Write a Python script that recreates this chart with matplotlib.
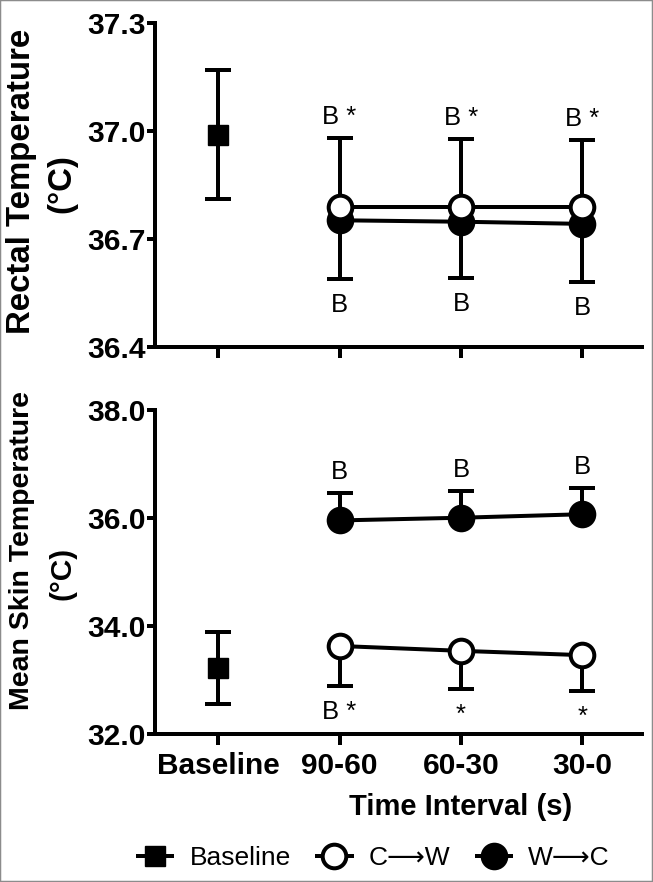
import matplotlib
matplotlib.use("Agg")
import matplotlib.pyplot as plt
from matplotlib.lines import Line2D
from matplotlib.patches import Rectangle
import numpy as np

plt.rcParams['font.family'] = ['Liberation Sans', 'DejaVu Sans']

# ---------------- data ----------------
categories = ['Baseline', '90-60', '60-30', '30-0']
intervals = [1, 2, 3]

rectal_base_mean = 36.99
rectal_base_sd = 0.18
rectal_cw_mean = [36.79, 36.79, 36.79]
rectal_cw_sd = [0.19, 0.187, 0.185]
rectal_wc_mean = [36.752, 36.748, 36.742]
rectal_wc_sd = [0.162, 0.157, 0.161]

skin_base_mean = 33.22
skin_base_sd = 0.66
skin_cw_mean = [33.63, 33.54, 33.46]
skin_cw_sd = [0.74, 0.71, 0.66]
skin_wc_mean = [35.955, 36.005, 36.07]
skin_wc_sd = [0.505, 0.495, 0.486]

rectal_cw_labels = ['B *', 'B *', 'B *']   # above C->W bars
rectal_wc_labels = ['B', 'B', 'B']         # below W->C bars
skin_wc_labels = ['B', 'B', 'B']           # above W->C bars
skin_cw_labels = ['B *', '*', '*']         # below C->W bars

rectal_ticks = [36.4, 36.7, 37.0, 37.3]
skin_ticks = [32.0, 34.0, 36.0, 38.0]

legend_names = ['Baseline', 'C\u27f6W', 'W\u27f6C']

# ---------------- style ----------------
W, H = 653, 882
DPI = 100
PX = 72.0 / DPI
LW = 4 * PX
fig = plt.figure(figsize=(W / DPI, H / DPI), dpi=DPI)

def ax_rect(l, t, r, b):
    return [l / W, 1 - b / H, (r - l) / W, (b - t) / H]

ax1 = fig.add_axes(ax_rect(155, 23, 642, 347))
ax2 = fig.add_axes(ax_rect(155, 410, 642, 734))

MS = 17
MEW = 4 * PX
CAP = 13.5 * PX
TICKFS = 21.5


def style_axes(ax, ticks, lo, hi, xlabels):
    ax.set_xlim(-0.52, 3.49)
    ax.set_ylim(lo, hi)
    for s in ['top', 'right']:
        ax.spines[s].set_visible(False)
    for s in ['left', 'bottom']:
        ax.spines[s].set_linewidth(LW)
    ax.set_yticks(ticks)
    ax.set_yticklabels([f"{t:.1f}" for t in ticks], fontsize=TICKFS, fontweight='bold')
    ax.set_xticks(range(len(categories)))
    if xlabels:
        ax.set_xticklabels(categories, fontsize=TICKFS, fontweight='bold')
    else:
        ax.set_xticklabels([])
    ax.tick_params(axis='y', length=8 * PX, width=LW, pad=1)
    ax.tick_params(axis='x', length=11 * PX, width=LW, pad=5)


def draw(ax, base_m, base_sd, cw_m, cw_sd, wc_m, wc_sd, cw_up):
    ax.errorbar([0], [base_m], yerr=[[base_sd], [base_sd]], fmt='s', color='black',
                ms=15, elinewidth=LW, capsize=CAP, capthick=LW, zorder=3)
    cw_m = np.array(cw_m); cw_sd = np.array(cw_sd)
    wc_m = np.array(wc_m); wc_sd = np.array(wc_sd)
    z0 = np.zeros_like(cw_sd)
    if cw_up:
        cw_err = [z0, cw_sd]; wc_err = [wc_sd, z0]
    else:
        cw_err = [cw_sd, z0]; wc_err = [z0, wc_sd]
    ax.errorbar(intervals, wc_m, yerr=wc_err, fmt='o-', color='black', ms=MS,
                mew=MEW, lw=LW, elinewidth=LW, capsize=CAP, capthick=LW, zorder=3)
    ax.errorbar(intervals, cw_m, yerr=cw_err, fmt='o-', color='black', mfc='white',
                mec='black', ms=MS, mew=MEW, lw=LW, elinewidth=LW, capsize=CAP,
                capthick=LW, zorder=4)


def label(ax, xs, ends, labels, above):
    for x, y, t in zip(xs, ends, labels):
        off = 14 * PX if above else -33 * PX
        ax.annotate(t, (x, y), xytext=(0, off), textcoords='offset points',
                    ha='center', va='baseline', fontsize=18.5)


style_axes(ax1, rectal_ticks, 36.4, 37.3, False)
style_axes(ax2, skin_ticks, 32.0, 38.0, True)

draw(ax1, rectal_base_mean, rectal_base_sd, rectal_cw_mean, rectal_cw_sd,
     rectal_wc_mean, rectal_wc_sd, cw_up=True)
draw(ax2, skin_base_mean, skin_base_sd, skin_cw_mean, skin_cw_sd,
     skin_wc_mean, skin_wc_sd, cw_up=False)

label(ax1, intervals, np.array(rectal_cw_mean) + np.array(rectal_cw_sd), rectal_cw_labels, True)
label(ax1, intervals, np.array(rectal_wc_mean) - np.array(rectal_wc_sd), rectal_wc_labels, False)
label(ax2, intervals, np.array(skin_wc_mean) + np.array(skin_wc_sd), skin_wc_labels, True)
label(ax2, intervals, np.array(skin_cw_mean) - np.array(skin_cw_sd), skin_cw_labels, False)

# y labels
fig.text(22 / W, 1 - 181 / H, 'Rectal Temperature', rotation=90, ha='center', va='center',
         fontsize=23.8, fontweight='bold')
fig.text(62 / W, 1 - 184 / H, '(°C)', rotation=90, ha='center', va='center',
         fontsize=23.8, fontweight='bold')
fig.text(22 / W, 1 - 550 / H, 'Mean Skin Temperature', rotation=90, ha='center', va='center',
         fontsize=20.5, fontweight='bold')
fig.text(62 / W, 1 - 573 / H, '(°C)', rotation=90, ha='center', va='center',
         fontsize=21.5, fontweight='bold')

# x label
fig.text(461 / W, 1 - 807 / H, 'Time Interval (s)', ha='center', va='center',
         fontsize=21, fontweight='bold')

# legend
handles = [
    Line2D([], [], color='black', marker='s', ms=15, lw=LW),
    Line2D([], [], color='black', marker='o', mfc='white', ms=MS, mew=MEW, lw=LW),
    Line2D([], [], color='black', marker='o', ms=MS, mew=MEW, lw=LW),
]
fig.legend(handles, legend_names, loc='center', bbox_to_anchor=(374 / W, 1 - 858 / H), ncol=3,
           frameon=False, fontsize=19, handlelength=1.3, handletextpad=0.65,
           columnspacing=1.0, borderaxespad=0, borderpad=0)

# outer frame
fig.add_artist(Rectangle((0, 0), 1, 1, transform=fig.transFigure, fill=False,
                         edgecolor='#8c8c8c', lw=2.5 * PX))

fig.savefig('out.png', dpi=DPI)
